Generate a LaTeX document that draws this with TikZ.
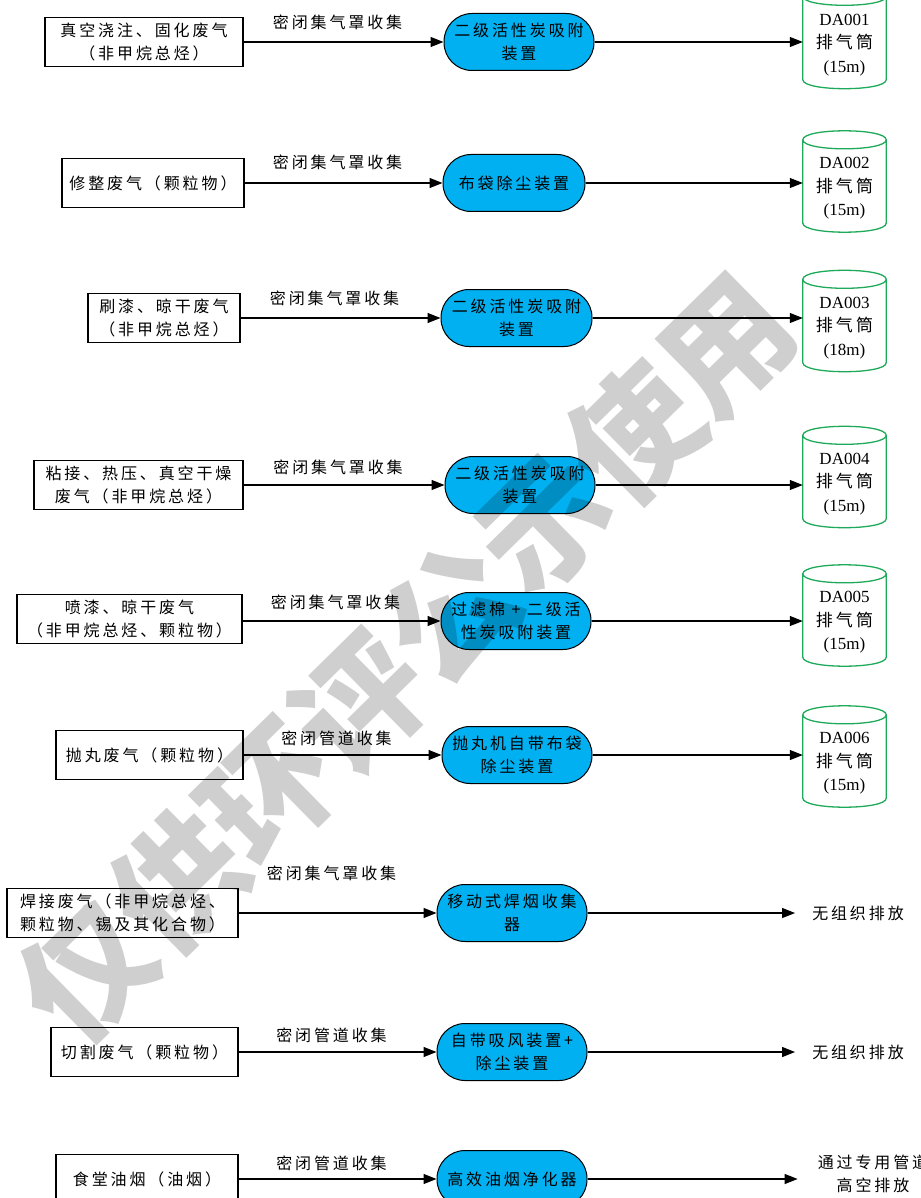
\documentclass[tikz,border=0pt]{standalone}
\usepackage{fontspec}
\setmainfont{Liberation Serif}
\newfontfamily\cjk{Noto Sans CJK SC}[LetterSpace=18]
\newfontfamily\wmfont{Noto Sans CJK SC}
\usetikzlibrary{arrows.meta}
\definecolor{procblue}{RGB}{0,176,240}
\definecolor{stackgreen}{RGB}{30,170,90}
\tikzset{
  cjkfont/.style={font=\cjk\fontsize{16pt}{23pt}\selectfont},
  srcbox/.style={draw=black, line width=1.2pt, fill=white, minimum height=49pt,
    inner sep=1pt, align=center, cjkfont},
  proc/.style={draw=black, line width=1pt, fill=procblue, rounded corners=28pt,
    minimum height=57pt, inner sep=1pt, align=center, cjkfont},
  flow/.style={line width=1.2pt, -{Triangle[length=13pt,width=10pt]}},
  lab/.style={cjkfont, inner sep=0pt, xshift=-6pt},
  stack/.style={minimum width=83pt, minimum height=101pt, inner sep=0pt},
  stacktext/.style={inner sep=0pt, align=center, font=\fontsize{17pt}{23.5pt}\selectfont},
  stackline/.style={draw=stackgreen, line width=1.3pt, fill=white},
  sink/.style={cjkfont, inner xsep=17pt, inner ysep=0pt, align=center},
  wm/.style={font=\wmfont\bfseries\fontsize{128pt}{128pt}\selectfont, text=black,
    text opacity=0.19, inner sep=0pt}
}
\newcommand\drawstack[2]{%
  \path[stackline] ([yshift=-9pt]#1.north west) -- ([yshift=9pt]#1.south west)
    .. controls ([yshift=-3pt]#1.south west) and ([yshift=-3pt]#1.south east) .. ([yshift=9pt]#1.south east)
    -- ([yshift=-9pt]#1.north east)
    .. controls ([yshift=3pt]#1.north east) and ([yshift=3pt]#1.north west) .. ([yshift=-9pt]#1.north west)
    .. controls ([yshift=-21pt]#1.north west) and ([yshift=-21pt]#1.north east) .. ([yshift=-9pt]#1.north east);
  \node[stacktext] (#1t) at ([yshift=-7pt]#1.center) {#2};
}
\begin{document}
\begin{tikzpicture}[x=1pt,y=-1pt]
\useasboundingbox (0,0) rectangle (920,1198);
\clip (0,0) rectangle (920,1198);

% ---- row 1
\node[srcbox, minimum width=198pt] (s1) at (144,42) {真空浇注、固化废气\\（非甲烷总烃）};
\node[proc, minimum width=150pt] (p1) at (519,42) {二级活性炭吸附\\装置};
\node[stack] (c1) at (844.5,38) {};
\drawstack{c1}{DA001\\{\cjk 排气筒}\\(15m)}
\draw[flow] (s1.east) -- node[lab, above=12pt] {密闭集气罩收集} (s1.east -| p1.west);
\draw[flow] (p1.east) -- (p1.east -| c1.west);

% ---- row 2
\node[srcbox, minimum width=182pt] (s2) at (153,183) {修整废气（颗粒物）};
\node[proc, minimum width=142pt] (p2) at (514,183) {布袋除尘装置};
\node[stack] (c2) at (844.5,181.5) {};
\drawstack{c2}{DA002\\{\cjk 排气筒}\\(15m)}
\draw[flow] (s2.east) -- node[lab, above=13pt] {密闭集气罩收集} (s2.east -| p2.west);
\draw[flow] (p2.east) -- (p2.east -| c2.west);

% ---- row 3
\node[srcbox, minimum width=152pt] (s3) at (164,318) {刷漆、晾干废气\\（非甲烷总烃）};
\node[proc, minimum width=151pt] (p3) at (516.5,318) {二级活性炭吸附\\装置};
\node[stack] (c3) at (844.5,321) {};
\drawstack{c3}{DA003\\{\cjk 排气筒}\\(18m)}
\draw[flow] (s3.east) -- node[lab, above=12pt] {密闭集气罩收集} (s3.east -| p3.west);
\draw[flow] (p3.east) -- (p3.east -| c3.west);

% ---- row 4
\node[srcbox, minimum width=209pt] (s4) at (138.5,485) {粘接、热压、真空干燥\\废气（非甲烷总烃）};
\node[proc, minimum width=150pt] (p4) at (520,485) {二级活性炭吸附\\装置};
\node[stack] (c4) at (844.5,477) {};
\drawstack{c4}{DA004\\{\cjk 排气筒}\\(15m)}
\draw[flow] (s4.east) -- node[lab, above=10pt] {密闭集气罩收集} (s4.east -| p4.west);
\draw[flow] (p4.east) -- (p4.east -| c4.west);

% ---- row 5
\node[srcbox, minimum width=225pt] (s5) at (129.5,619) {喷漆、晾干废气\\（非甲烷总烃、颗粒物）};
\node[proc, minimum width=150pt] (p5) at (516,621) {过滤棉 + 二级活\\性炭吸附装置};
\node[stack] (c5) at (844.5,615.5) {};
\drawstack{c5}{DA005\\{\cjk 排气筒}\\(15m)}
\draw[flow] (s5.east |- p5) -- node[lab, above=11pt] {密闭集气罩收集} (p5.west);
\draw[flow] (p5.east) -- (p5.east -| c5.west);

% ---- row 6
\node[srcbox, minimum width=187pt] (s6) at (149.5,755) {抛丸废气（颗粒物）};
\node[proc, minimum width=150pt] (p6) at (517,755) {抛丸机自带布袋\\除尘装置};
\node[stack] (c6) at (844.5,756.5) {};
\drawstack{c6}{DA006\\{\cjk 排气筒}\\(15m)}
\draw[flow] (s6.east) -- node[lab, above=9pt] {密闭管道收集} (s6.east -| p6.west);
\draw[flow] (p6.east) -- (p6.east -| c6.west);

% ---- row 7
\node[srcbox, minimum width=231pt] (s7) at (122.5,913) {焊接废气（非甲烷总烃、\\颗粒物、锡及其化合物）};
\node[proc, minimum width=150pt] (p7) at (512,913) {移动式焊烟收集\\器};
\node[sink] (e7) at (858,913) {无组织排放};
\draw[flow] (s7.east) -- node[lab, above=32pt] {密闭集气罩收集} (s7.east -| p7.west);
\draw[flow] (p7.east) -- (p7.east -| e7.west);

% ---- row 8
\node[srcbox, minimum width=187pt] (s8) at (144.5,1052) {切割废气（颗粒物）};
\node[proc, minimum width=150pt] (p8) at (512,1052) {自带吸风装置+\\除尘装置};
\node[sink] (e8) at (858,1052) {无组织排放};
\draw[flow] (s8.east) -- node[lab, above=9pt] {密闭管道收集} (s8.east -| p8.west);
\draw[flow] (p8.east) -- (p8.east -| e8.west);

% ---- row 9
\node[srcbox, minimum width=182pt] (s9) at (147,1179) {食堂油烟（油烟）};
\node[proc, minimum width=150pt] (p9) at (512,1179) {高效油烟净化器};
\node[sink, inner xsep=20pt] (e9) at (873,1174) {通过专用管道\\高空排放};
\draw[flow] (s9.east) -- node[lab, above=8pt] {密闭管道收集} (s9.east -| p9.west);
\draw[flow] (p9.east) -- (p9.east -| e9.west);

% ---- watermark
\node[wm, rotate=44.5] (wm) at (406,658) {仅供环评公示使用};
\end{tikzpicture}
\end{document}
